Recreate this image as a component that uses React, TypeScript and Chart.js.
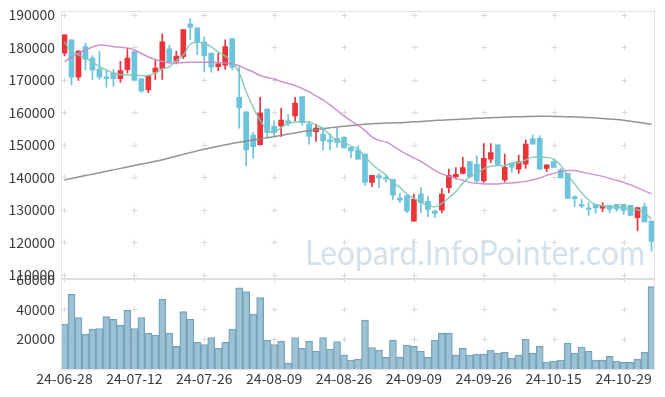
import React, { useEffect, useRef } from 'react';
import { Chart, registerables } from 'chart.js';

Chart.register(...registerables);

const dates = [
  '24-06-28', '24-07-01', '24-07-02', '24-07-03', '24-07-04', '24-07-05', '24-07-08', '24-07-09', '24-07-10', '24-07-11',
  '24-07-12', '24-07-15', '24-07-16', '24-07-17', '24-07-18', '24-07-19', '24-07-22', '24-07-23', '24-07-24', '24-07-25',
  '24-07-26', '24-07-29', '24-07-30', '24-07-31', '24-08-01', '24-08-02', '24-08-05', '24-08-06', '24-08-07', '24-08-08',
  '24-08-09', '24-08-12', '24-08-13', '24-08-14', '24-08-16', '24-08-19', '24-08-20', '24-08-21', '24-08-22', '24-08-23',
  '24-08-26', '24-08-27', '24-08-28', '24-08-29', '24-08-30', '24-09-02', '24-09-03', '24-09-04', '24-09-05', '24-09-06',
  '24-09-09', '24-09-10', '24-09-11', '24-09-12', '24-09-13', '24-09-19', '24-09-20', '24-09-23', '24-09-24', '24-09-25',
  '24-09-26', '24-09-27', '24-09-30', '24-10-02', '24-10-04', '24-10-07', '24-10-08', '24-10-10', '24-10-11', '24-10-14',
  '24-10-15', '24-10-16', '24-10-17', '24-10-18', '24-10-21', '24-10-22', '24-10-23', '24-10-24', '24-10-25', '24-10-28',
  '24-10-29', '24-10-30', '24-10-31', '24-11-01', '24-11-04',
];

const opens = [
  178200, 182300, 170800, 180200, 176700, 173300, 170900, 172100, 170300, 173100,
  178700, 170300, 166900, 172300, 173400, 179500, 175700, 177100, 187200, 186000,
  181600, 178200, 174000, 174500, 182700, 164600, 160100, 153000, 150000, 161000,
  155700, 155700, 157400, 158900, 164800, 156400, 154000, 153300, 151500, 152000,
  152300, 149200, 148400, 147100, 138400, 140500, 140000, 139400, 133600, 134400,
  126500, 134800, 132600, 129600, 129900, 136800, 140200, 141200, 144800, 144000,
  138900, 145600, 150000, 139200, 144300, 142500, 144000, 151800, 152000, 142700,
  144800, 142300, 141200, 134000, 131600, 130500, 131700, 130500, 131400, 131700,
  131700, 131400, 127600, 131000, 126500,
];
const highs = [
  183800, 182300, 179000, 181300, 177400, 178800, 172800, 173200, 175700, 179700,
  178700, 170300, 171200, 176100, 184100, 180600, 178800, 185400, 188800, 186000,
  183100, 178200, 178200, 182300, 182700, 173900, 160100, 153800, 164600, 161000,
  157400, 161200, 159400, 164600, 164800, 157200, 156400, 155300, 153300, 155100,
  152500, 149200, 149700, 147100, 140600, 141200, 140600, 139400, 135100, 134400,
  134800, 136800, 134200, 129900, 136500, 142500, 143000, 146100, 144800, 146600,
  150400, 150400, 150000, 147100, 144300, 146800, 151500, 153000, 152800, 143800,
  145600, 142700, 141200, 134400, 133200, 132200, 131700, 132200, 131400, 131700,
  131700, 131400, 130700, 132000, 126500,
];
const lows = [
  177300, 168400, 169800, 173000, 170100, 170100, 167700, 168000, 169200, 172100,
  169900, 166100, 166000, 170000, 170100, 175400, 174900, 176500, 182300, 177700,
  172400, 172300, 172800, 173200, 173000, 155100, 143600, 145900, 149900, 152300,
  152400, 152600, 155800, 157400, 156000, 150200, 151000, 148400, 148400, 149200,
  149000, 146000, 145600, 137500, 137100, 136800, 138600, 133200, 132200, 129100,
  126500, 129100, 127900, 127600, 129100, 135300, 139400, 141000, 139900, 138500,
  138400, 144500, 143800, 138600, 141500, 141200, 142700, 150200, 142500, 141700,
  143000, 139800, 133500, 131000, 130600, 128300, 128900, 129400, 129100, 129600,
  128600, 128300, 123600, 126300, 117300,
];
const closes = [
  183800, 170800, 178800, 176300, 173000, 170800, 170300, 170300, 172800, 176700,
  169900, 166600, 171200, 173600, 181700, 175400, 177300, 185400, 186200, 181400,
  177400, 173900, 174900, 180200, 173900, 161300, 148400, 149400, 159800, 153800,
  153700, 157600, 156600, 162800, 156800, 152600, 155100, 151200, 150900, 150700,
  149000, 148100, 145600, 138400, 140600, 139800, 139500, 134500, 133000, 129600,
  133200, 132200, 130100, 128900, 134800, 140600, 140900, 143000, 140200, 138900,
  145800, 147600, 143800, 143100, 143100, 144800, 150200, 150200, 142500, 143800,
  143000, 139800, 133500, 133400, 131100, 130100, 130600, 131200, 130100, 130300,
  129800, 128300, 130700, 126300, 120300,
];
const volumes = [
  30000, 50000, 34400, 23300, 26700, 27100, 35100, 33300, 29300, 39300,
  27100, 34400, 24000, 22700, 46700, 24000, 15100, 38400, 33300, 17800,
  16400, 21100, 14000, 17800, 26700, 54400, 51800, 36700, 47800, 19300,
  16400, 18700, 3800, 21100, 13800, 18700, 12000, 21100, 13300, 18400,
  9300, 6000, 6700, 32700, 14400, 12700, 7800, 19300, 7800, 16000,
  15100, 12000, 7800, 19300, 24000, 24000, 9300, 13800, 9300, 10000,
  10000, 12700, 10700, 11300, 7300, 9300, 20000, 10700, 15300, 4700,
  5300, 6000, 17300, 10700, 14700, 12000, 6000, 6000, 8400, 5300,
  4400, 4400, 6700, 11300, 55100,
];
const ma5 = [
  181700, 178600, 177600, 176700, 175500, 174000, 173000, 172000, 171600, 171500,
  171500, 171300, 171300, 172100, 173300, 174000, 175800, 177600, 180900, 181500,
  181200, 180100, 178500, 177300, 175500, 172100, 166300, 161500, 157500, 154600,
  153700, 155300, 156600, 157000, 157100, 157000, 156100, 155000, 153000, 151200,
  150700, 149600, 148600, 146300, 144100, 142300, 140700, 138300, 136900, 134800,
  133500, 132300, 131400, 130900, 132000, 133700, 135600, 138200, 140100, 141200,
  142600, 143400, 143600, 143600, 144400, 144500, 145300, 146200, 146200, 146100,
  145600, 143700, 140500, 138000, 135200, 133000, 131600, 131200, 130900, 130800,
  130700, 130300, 130000, 129000, 127200,
];
const ma20 = [
  175560, 177000, 178140, 179150, 180070, 180690, 180540, 180170, 179980, 179770,
  179150, 178080, 177000, 176230, 175620, 175160, 175160, 175310, 175370, 175370,
  175370, 175370, 175310, 175160, 175000, 174240, 173310, 172390, 171320, 170700,
  170240, 169470, 168860, 168240, 167320, 166250, 165020, 163790, 162250, 160560,
  158870, 157330, 155950, 154410, 152420, 151340, 150880, 149650, 148270, 147040,
  145960, 144890, 143500, 142120, 141050, 140300, 139670, 139060, 138440, 138130,
  137970, 137970, 137970, 138130, 138280, 138440, 138740, 139260, 139780, 140580,
  141200, 141820, 142060, 142060, 141660, 141200, 140740, 140280, 139660, 139050,
  138440, 137670, 136750, 135820, 134900,
];
const ma120 = [
  139200, 139630, 140090, 140520, 140960, 141420, 141850, 142280, 142740, 143170,
  143630, 144060, 144490, 144950, 145380, 145960, 146490, 147040, 147590, 148120,
  148610, 149070, 149530, 149990, 150420, 150760, 151130, 151470, 151800, 152140,
  152510, 152880, 153280, 153650, 154020, 154320, 154630, 154910, 155210, 155490,
  155700, 155920, 156100, 156320, 156500, 156570, 156660, 156720, 156780, 156930,
  157060, 157180, 157330, 157460, 157580, 157700, 157800, 157920, 158010, 158130,
  158230, 158320, 158410, 158500, 158560, 158620, 158660, 158720, 158750, 158750,
  158720, 158690, 158620, 158560, 158470, 158380, 158260, 158100, 157950, 157760,
  157520, 157240, 156930, 156600, 156230,
];
const priceTicks = [110000, 120000, 130000, 140000, 150000, 160000, 170000, 180000, 190000];
const volumeTicks = [20000, 40000, 60000];
const watermark = 'Leopard.InfoPointer.com';

const UP = '#ea3439';
const DOWN = '#6cc3dc';
const FONT = '"Noto Sans CJK KR", "Noto Sans", sans-serif';

const decor = {
  id: 'decor',
  beforeDatasetsDraw(chart: any) {
    const { ctx } = chart;
    const x = chart.scales.x;
    const y = chart.scales.y;
    const yv = chart.scales.yv;
    ctx.save();
    ctx.font = '400 34px Lato';
    ctx.fillStyle = 'rgba(175,201,220,0.55)';
    ctx.textAlign = 'right';
    ctx.textBaseline = 'alphabetic';
    ctx.fillText(watermark, x.right - 10, y.bottom - 14, 340);
    ctx.strokeStyle = '#dadada';
    ctx.lineWidth = 1;
    const xs: number[] = [];
    dates.forEach((_, i) => {
      if (i % 10 === 0) xs.push(Math.round(x.getPixelForValue(i)) + 0.5);
    });
    const ys: number[] = [];
    priceTicks.forEach((v) => ys.push(Math.round(y.getPixelForValue(v)) + 0.5));
    volumeTicks.forEach((v) => ys.push(Math.round(yv.getPixelForValue(v)) + 0.5));
    ctx.beginPath();
    xs.forEach((px) => {
      ys.forEach((py) => {
        ctx.moveTo(px - 3, py);
        ctx.lineTo(px + 3, py);
        ctx.moveTo(px, py - 3);
        ctx.lineTo(px, py + 3);
      });
    });
    ctx.stroke();
    ctx.restore();
  },
  afterDraw(chart: any) {
    const { ctx } = chart;
    const x = chart.scales.x;
    const y = chart.scales.y;
    const yv = chart.scales.yv;
    ctx.save();
    ctx.strokeStyle = '#e3e3e3';
    ctx.lineWidth = 1;
    ctx.beginPath();
    ctx.moveTo(x.left + 0.5, y.top);
    ctx.lineTo(x.left + 0.5, yv.bottom);
    ctx.moveTo(x.left, Math.round(y.top) + 0.5);
    ctx.lineTo(x.right, Math.round(y.top) + 0.5);
    ctx.moveTo(Math.round(x.right) - 0.5, y.top);
    ctx.lineTo(Math.round(x.right) - 0.5, yv.bottom);
    ctx.moveTo(x.left, Math.round(yv.bottom) + 0.5);
    ctx.lineTo(x.right, Math.round(yv.bottom) + 0.5);
    ctx.stroke();
    ctx.strokeStyle = '#dedede';
    ctx.lineWidth = 2;
    ctx.beginPath();
    ctx.moveTo(x.left, Math.round(y.bottom));
    ctx.lineTo(x.right, Math.round(y.bottom));
    ctx.stroke();
    ctx.restore();
  },
};

const tickStyle = {
  autoSkip: false,
  padding: 6,
  color: '#3a3a3a',
  font: { family: FONT, size: 14 },
  callback: (v: any) => String(v),
};

const fitY = (s: any) => {
  s.width = 53;
  s.paddingTop = 0;
  s.paddingBottom = 0;
};

export default function App() {
  const ref = useRef<HTMLCanvasElement | null>(null);

  useEffect(() => {
    if (!ref.current) return;
    const colors = opens.map((o, i) => (closes[i] >= o ? UP : DOWN));
    const chart = new Chart(ref.current, {
      type: 'bar',
      data: {
        labels: dates,
        datasets: [
          {
            type: 'line',
            data: ma5,
            yAxisID: 'y',
            borderColor: 'rgba(128,200,182,0.9)',
            borderWidth: 1.5,
            pointRadius: 0,
            tension: 0.35,
          } as any,
          {
            type: 'line',
            data: ma20,
            yAxisID: 'y',
            borderColor: 'rgba(198,136,198,0.9)',
            borderWidth: 1.5,
            pointRadius: 0,
            tension: 0.35,
          } as any,
          {
            type: 'line',
            data: ma120,
            yAxisID: 'y',
            borderColor: 'rgba(135,135,135,0.9)',
            borderWidth: 1.5,
            pointRadius: 0,
            tension: 0.35,
          } as any,
          {
            type: 'bar',
            data: opens.map((o, i) => [o, closes[i]]),
            yAxisID: 'y',
            backgroundColor: colors,
            borderWidth: 0,
            barThickness: 5,
            grouped: false,
          } as any,
          {
            type: 'bar',
            data: lows.map((l, i) => [l, highs[i]]),
            yAxisID: 'y',
            backgroundColor: colors,
            borderWidth: 0,
            barThickness: 1,
            grouped: false,
          } as any,
          {
            type: 'bar',
            data: volumes,
            yAxisID: 'yv',
            backgroundColor: 'rgba(143,186,206,0.88)',
            borderColor: '#72a0b8',
            borderWidth: 1,
            barPercentage: 1,
            categoryPercentage: 1,
            grouped: false,
          } as any,
        ],
      },
      options: {
        responsive: false,
        animation: false,
        devicePixelRatio: 1,
        layout: { padding: { top: 2.5, right: 2, left: 0, bottom: 0 } },
        plugins: { legend: { display: false }, tooltip: { enabled: false } },
        scales: {
          x: {
            type: 'category',
            offset: true,
            grid: { display: false, drawTicks: false },
            border: { display: false },
            ticks: {
              autoSkip: false,
              maxRotation: 0,
              padding: 1,
              color: '#3a3a3a',
              font: { family: FONT, size: 14 },
              callback: (_v: any, i: number) => (i % 10 === 0 ? dates[i] : ''),
            },
            afterFit: (s: any) => {
              s.height = 20;
              s.paddingLeft = 0;
              s.paddingRight = 0;
            },
          },
          yv: {
            type: 'linear',
            position: 'left',
            stack: 'main',
            stackWeight: 1,
            min: 0,
            max: 60000,
            grid: { display: false, drawTicks: false },
            border: { display: false },
            ticks: tickStyle,
            afterBuildTicks: (s: any) => {
              s.ticks = volumeTicks.map((v) => ({ value: v }));
            },
            afterFit: fitY,
          },
          y: {
            type: 'linear',
            position: 'left',
            stack: 'main',
            stackWeight: 3,
            min: 108600,
            max: 191300,
            grid: { display: false, drawTicks: false },
            border: { display: false },
            ticks: tickStyle,
            afterBuildTicks: (s: any) => {
              s.ticks = priceTicks.map((v) => ({ value: v }));
            },
            afterFit: fitY,
          },
        },
      } as any,
      plugins: [decor],
    });
    return () => chart.destroy();
  }, []);

  return (
    <div style={{ width: 649, height: 381 }}>
      <canvas ref={ref} width={649} height={381} />
    </div>
  );
}
